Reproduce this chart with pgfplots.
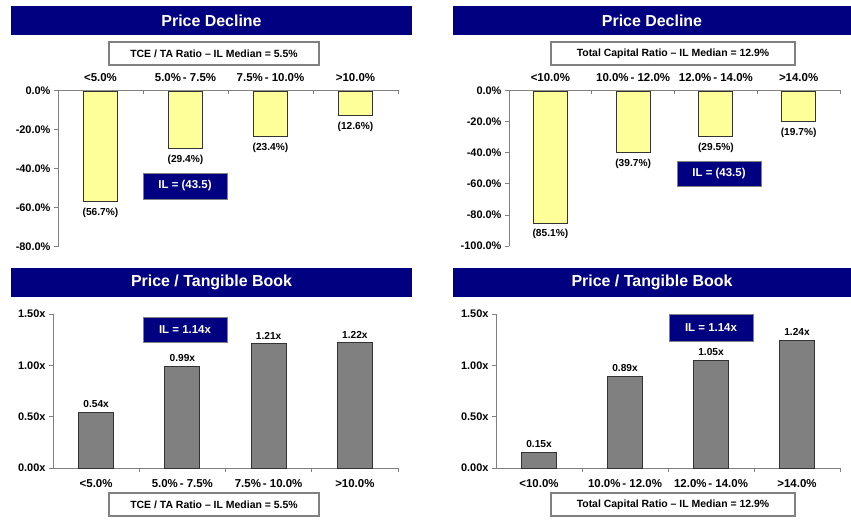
\documentclass[border=0pt]{standalone}
\usepackage{pgfplots}
\pgfplotsset{compat=1.18}
\usepackage{fontspec}
\setmainfont{Liberation Sans}
\definecolor{navy}{RGB}{0,0,128}
\definecolor{baryellow}{RGB}{255,255,153}
\definecolor{bargray}{RGB}{128,128,128}
\definecolor{axgray}{RGB}{128,128,128}
\newcommand{\fs}[1]{\bfseries\fontsize{#1}{#1}\selectfont}
\pgfplotsset{
  panel/.style={
    scale only axis,
    axis line style={axgray, line width=1bp},
    tick style={axgray, line width=1bp},
    tick align=outside,
    major tick length=4bp,
    minor tick length=4bp,
    xmin=0.5, xmax=4.5,
    xtick={1,2,3,4},
    minor xtick={1.5,2.5,3.5,4.5},
    major x tick style={draw=none},
    ybar, bar width=34bp,
    yticklabel style={font=\fs{11}, text=black},
    xticklabel style={font=\fs{11.5}, text=black},
    nodes near coords,
    point meta=explicit symbolic,
    clip=false,
  },
  toppanel/.style={panel,
    axis x line*=top, axis y line*=left,
    ymax=0,
    minor x tick style={yshift=-3.5bp},
    xticklabel style={yshift=2bp},
    nodes near coords style={font=\fs{10.2}, text=black, anchor=north, yshift=-3bp},
  },
  botpanel/.style={panel,
    axis x line*=bottom, axis y line*=left,
    ymin=0, ymax=1.5,
    ytick={0,0.5,1,1.5},
    yticklabels={0.00x,0.50x,1.00x,1.50x},
    xticklabel style={yshift=-4bp},
    nodes near coords style={font=\fs{10.2}, text=black, anchor=south, yshift=1bp},
  },
}
\begin{document}
\begin{tikzpicture}[x=1bp,y=1bp]
\fill[white] (0,0) rectangle (851,-523);
\path[use as bounding box] (0,0) rectangle (851,-523);

% ---------- title bars ----------
\fill[navy] (11,-6) rectangle (412,-35);
\node[text=white,font=\fs{16}] at (211.5,-20.5) {Price Decline};
\fill[navy] (453,-6) rectangle (851,-35);
\node[text=white,font=\fs{16}] at (652,-20.5) {Price Decline};
\fill[navy] (11,-268) rectangle (412,-297);
\node[text=white,font=\fs{16}] at (211.5,-282.5) {Price / Tangible Book};
\fill[navy] (453,-268) rectangle (851,-297);
\node[text=white,font=\fs{16}] at (652,-282.5) {Price / Tangible Book};

% ---------- subtitle boxes ----------
\draw[axgray,line width=1.5bp,fill=white] (109,-42) rectangle (319,-65);
\node[font=\fs{10.5}] at (214,-53.5) {TCE / TA Ratio -- IL Median = 5.5\%};
\draw[axgray,line width=1.5bp,fill=white] (551,-42) rectangle (795,-65);
\node[font=\fs{10.5}] at (673,-53.5) {Total Capital Ratio -- IL Median = 12.9\%};
\draw[axgray,line width=1.5bp,fill=white] (109,-493) rectangle (319,-516);
\node[font=\fs{10.5}] at (214,-504.5) {TCE / TA Ratio -- IL Median = 5.5\%};
\draw[axgray,line width=1.5bp,fill=white] (551,-493) rectangle (795,-516);
\node[font=\fs{10.5}] at (673,-504.5) {Total Capital Ratio -- IL Median = 12.9\%};

% ---------- top left ----------
\begin{axis}[toppanel, at={(58bp,-91bp)}, anchor=north west,
  width=340bp, height=156bp, ymin=-80,
  ytick={-80,-60,-40,-20,0},
  yticklabels={-80.0\%,-60.0\%,-40.0\%,-20.0\%,0.0\%},
  xticklabels={<5.0\%,5.0\%\,- 7.5\%,7.5\%\,- 10.0\%,>10.0\%}]
\addplot[fill=baryellow, draw=black!80, line width=0.8bp] coordinates
  {(1,-56.7) [(56.7\%)] (2,-29.4) [(29.4\%)] (3,-23.4) [(23.4\%)] (4,-12.6) [(12.6\%)]};
\end{axis}

% ---------- top right ----------
\begin{axis}[toppanel, at={(509bp,-91bp)}, anchor=north west,
  width=331bp, height=155bp, ymin=-100,
  ytick={-100,-80,-60,-40,-20,0},
  yticklabels={-100.0\%,-80.0\%,-60.0\%,-40.0\%,-20.0\%,0.0\%},
  xticklabels={<10.0\%,10.0\%\,- 12.0\%,12.0\%\,- 14.0\%,>14.0\%}]
\addplot[fill=baryellow, draw=black!80, line width=0.8bp] coordinates
  {(1,-85.1) [(85.1\%)] (2,-39.7) [(39.7\%)] (3,-29.5) [(29.5\%)] (4,-19.7) [(19.7\%)]};
\end{axis}

% ---------- bottom left ----------
\begin{axis}[botpanel, at={(53bp,-314bp)}, anchor=north west,
  width=345bp, height=154bp, bar width=35bp,
  xticklabels={<5.0\%,5.0\%\,- 7.5\%,7.5\%\,- 10.0\%,>10.0\%}]
\addplot[fill=bargray, draw=black!80, line width=0.8bp] coordinates
  {(1,0.54) [0.54x] (2,0.99) [0.99x] (3,1.21) [1.21x] (4,1.22) [1.22x]};
\end{axis}

% ---------- bottom right ----------
\begin{axis}[botpanel, at={(496bp,-314bp)}, anchor=north west,
  width=344bp, height=154bp, bar width=35bp,
  xticklabels={<10.0\%,10.0\%\,- 12.0\%,12.0\%\,- 14.0\%,>14.0\%}]
\addplot[fill=bargray, draw=black!80, line width=0.8bp] coordinates
  {(1,0.15) [0.15x] (2,0.89) [0.89x] (3,1.05) [1.05x] (4,1.24) [1.24x]};
\end{axis}

% ---------- IL boxes ----------
\draw[axgray,fill=navy] (143,-173) rectangle (227,-199);
\node[text=white,font=\fs{11.5}] at (185,-186) {IL = (43.5)};
\draw[axgray,fill=navy] (677,-161) rectangle (761,-186);
\node[text=white,font=\fs{11.5}] at (719,-173.5) {IL = (43.5)};
\draw[axgray,fill=navy] (143,-317) rectangle (227,-342);
\node[text=white,font=\fs{11.5}] at (185,-329.5) {IL = 1.14x};
\draw[axgray,fill=navy] (669,-314) rectangle (753,-341);
\node[text=white,font=\fs{11.5}] at (711,-327.5) {IL = 1.14x};
\end{tikzpicture}
\end{document}
